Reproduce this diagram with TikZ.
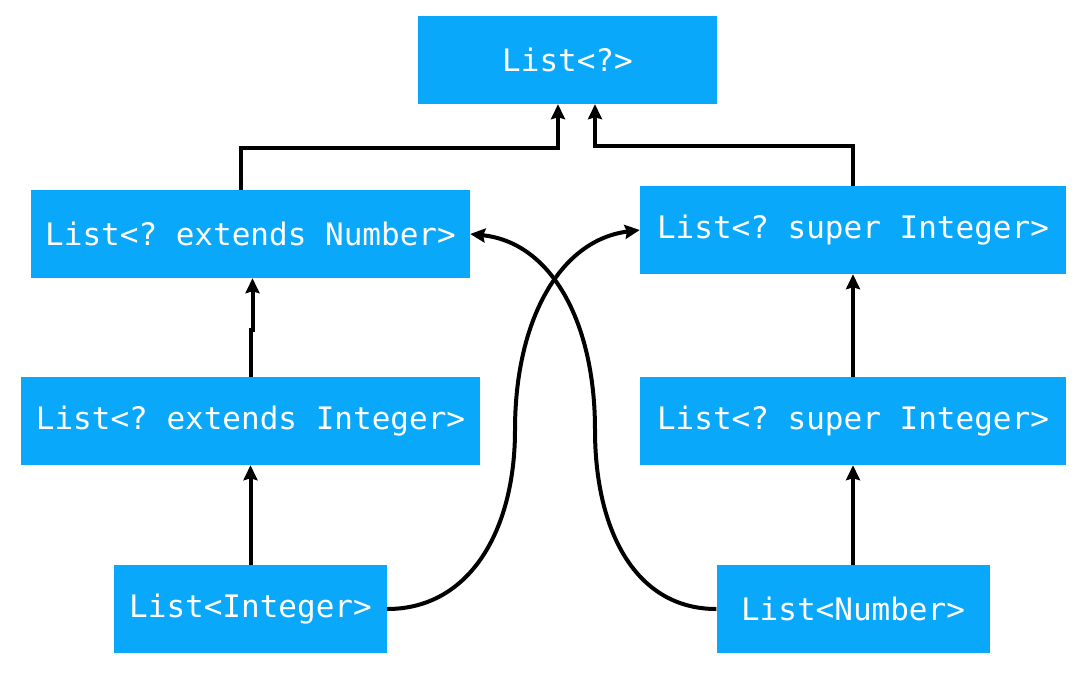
\documentclass[tikz,border=0pt]{standalone}
\usepackage{fontspec}
\setmonofont{DejaVu Sans Mono}
\usetikzlibrary{arrows.meta}
\definecolor{boxblue}{HTML}{0AA8FB}

\begin{document}
\begin{tikzpicture}[x=1pt, y=-1pt,
    typebox/.style={fill=boxblue, text=white, inner sep=0pt, minimum height=88pt,
        font=\ttfamily\fontsize{31}{31}\selectfont},
    link/.style={line width=4pt, -{Stealth[length=15pt,width=14pt,inset=2pt]}}]
        \useasboundingbox (0,0) rectangle (1081,673);
        % 类型框
        \node [typebox, minimum width=299pt] (top) at (567.5,60) {List<?>};
        \node [typebox, minimum width=439pt] (extn) at (250.5,234) {List<? extends Number>};
        \node [typebox, minimum width=426pt] (supa) at (853,230) {List<? super Integer>};
        \node [typebox, minimum width=459pt] (exti) at (250.5,421) {List<? extends Integer>};
        \node [typebox, minimum width=426pt] (supb) at (853,421) {List<? super Integer>};
        \node [typebox, minimum width=273pt] (int) at (250.5,609) {List<Integer>};
        \node [typebox, minimum width=273pt] (num) at (853,609) {List<Number>};
        % 折线
        \draw [link] ([xshift=-10pt]extn.north) -- ++(0,-42) -| ([xshift=-9.5pt]top.south);
        \draw [link] (supa.north) -- ++(0,-40) -| ([xshift=27.5pt]top.south);
        \draw [link] (exti.north) -- ++(0,-47) -| ([xshift=2pt]extn.south);
        \draw [link] (supb.north) -- (supa.south);
        \draw [link] (int.north) -- (exti.south);
        \draw [link] (num.north) -- (supb.south);
        % 交叉曲线
        \draw [link] (int.east) .. controls (470,609) and (515,530) .. (515,430)
            .. controls (515,320) and (560,240) .. (supa.west);
        \draw [link] (num.west) .. controls (635,609) and (595,530) .. (595,430)
            .. controls (595,320) and (550,242) .. (extn.east);
    \end{tikzpicture}
\end{document}
